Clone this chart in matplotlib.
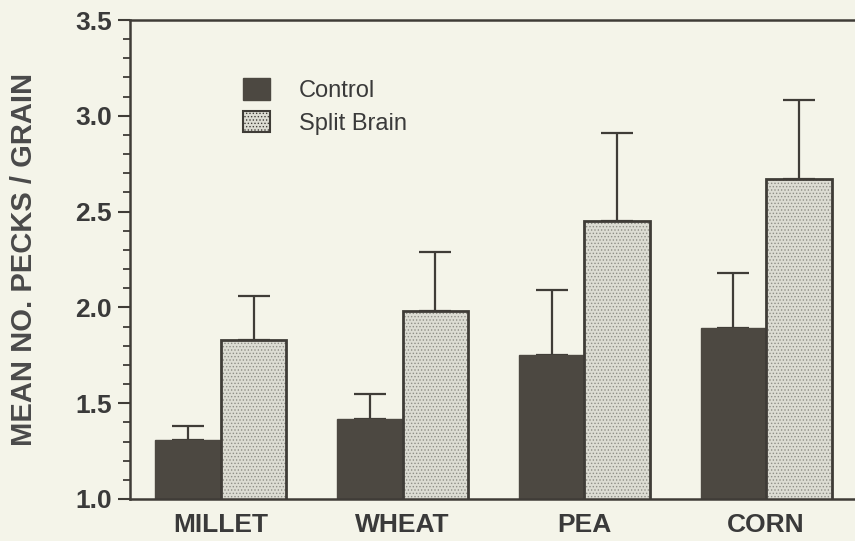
import numpy as np
import matplotlib.pyplot as plt
from matplotlib.patches import Patch

grains = ['MILLET', 'WHEAT', 'PEA', 'CORN']
control = [1.31, 1.42, 1.75, 1.89]
control_err = [0.07, 0.13, 0.34, 0.29]
split = [1.83, 1.98, 2.45, 2.67]
split_err = [0.23, 0.31, 0.46, 0.41]

bg = '#f4f4e9'
dark = '#3f3c37'
plt.rcParams['font.family'] = ['Liberation Sans', 'DejaVu Sans']
plt.rcParams['hatch.linewidth'] = 0.6

fig = plt.figure(figsize=(8.55, 5.41), dpi=100, facecolor=bg)
ax = fig.add_axes([130 / 855, 1 - 499 / 541, 727 / 855, 479 / 541], facecolor=bg)

x = np.arange(len(grains))
w = 0.36
ax.bar(x - w / 2, control, w, color='#4c4841', edgecolor='#4c4841',
       linewidth=1, zorder=2)
# stippled fill, then the outline on top
plt.rcParams['hatch.color'] = '#8e8e86'
ax.bar(x + w / 2, split, w, color='#dcdcd3', hatch='.....', edgecolor='#8e8e86',
       linewidth=0, zorder=2)
ax.bar(x + w / 2, split, w, fill=False, edgecolor=dark, linewidth=2, zorder=3)

ekw = dict(fmt='none', ecolor=dark, elinewidth=1.6, capsize=11.5, capthick=1.6, zorder=1)
ax.errorbar(x - w / 2, control, yerr=[np.zeros(4), control_err], **ekw)
ax.errorbar(x + w / 2, split, yerr=[np.zeros(4), split_err], **ekw)

ax.set_ylim(1.0, 3.5)
ax.set_xlim(-0.5, 3.5)
ax.set_yticks([1.0, 1.5, 2.0, 2.5, 3.0, 3.5])
ax.set_yticks(np.arange(1.0, 3.51, 0.1), minor=True)
ax.set_yticklabels(['1.0', '1.5', '2.0', '2.5', '3.0', '3.5'])
ax.set_xticks(x)
ax.set_xticklabels(grains)
ax.tick_params(axis='y', which='major', length=9, width=1.5, color=dark,
               labelsize=19, labelcolor='#3a3a3a', pad=4)
ax.tick_params(axis='y', which='minor', length=5, width=1.3, color=dark)
ax.tick_params(axis='x', length=0, labelsize=19, labelcolor='#3a3a3a', pad=10)
for lab in ax.get_yticklabels() + ax.get_xticklabels():
    lab.set_fontweight('bold')

for s in ['left', 'top', 'bottom']:
    ax.spines[s].set_color(dark)
    ax.spines[s].set_linewidth(1.8)
ax.spines['right'].set_visible(False)

ax.set_ylabel('MEAN NO. PECKS / GRAIN', fontsize=21, fontweight='bold',
              color='#4a4a4a', labelpad=27)

handles = [Patch(facecolor='#4c4841', edgecolor='#4c4841', label='Control'),
           Patch(facecolor='#dcdcd3', edgecolor=dark, hatch='.....', linewidth=1.5,
                 label='Split Brain')]
ax.legend(handles=handles, loc='upper left', bbox_to_anchor=(222 / 855, 1 - 57 / 541),
          bbox_transform=fig.transFigure, frameon=False, fontsize=17,
          handlelength=1.15, handleheight=1.05, handletextpad=1.2, labelspacing=0.35,
          labelcolor='#3a3a3a')

fig.savefig('out.png', dpi=100, facecolor=bg)
